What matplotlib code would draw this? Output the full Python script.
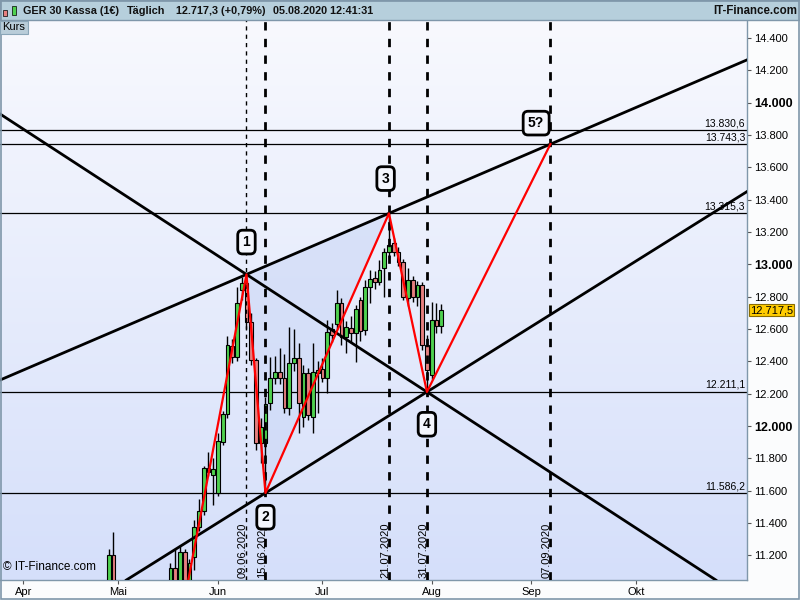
import numpy as np
import matplotlib.pyplot as plt
from matplotlib.patches import Rectangle, Polygon
from matplotlib.colors import LinearSegmentedColormap
from matplotlib.ticker import FixedLocator, FuncFormatter
import matplotlib.transforms as mtransforms

plt.rcParams['font.family'] = ['Liberation Sans', 'DejaVu Sans']

# ==========================================================
# Daten (Tageskerzen GER 30)
# ==========================================================
feiertage = ['2020-04-10', '2020-04-13']

datum = ['2020-04-29', '2020-04-30',
         '2020-05-18', '2020-05-19', '2020-05-20', '2020-05-21', '2020-05-22',
         '2020-05-25', '2020-05-26', '2020-05-27', '2020-05-28', '2020-05-29',
         '2020-06-01', '2020-06-02', '2020-06-03', '2020-06-04', '2020-06-05',
         '2020-06-08', '2020-06-09', '2020-06-10', '2020-06-11', '2020-06-12',
         '2020-06-15', '2020-06-16', '2020-06-17', '2020-06-18', '2020-06-19',
         '2020-06-22', '2020-06-23', '2020-06-24', '2020-06-25', '2020-06-26',
         '2020-06-29', '2020-06-30', '2020-07-01', '2020-07-02', '2020-07-03',
         '2020-07-06', '2020-07-07', '2020-07-08', '2020-07-09', '2020-07-10',
         '2020-07-13', '2020-07-14', '2020-07-15', '2020-07-16', '2020-07-17',
         '2020-07-20', '2020-07-21', '2020-07-22', '2020-07-23', '2020-07-24',
         '2020-07-27', '2020-07-28', '2020-07-29', '2020-07-30', '2020-07-31',
         '2020-08-03', '2020-08-04', '2020-08-05']

eroeffnung = [10900, 11202,
              10950, 11122, 11030, 11221, 11030,
              11188, 11374, 11473, 11740, 11695,
              11588, 11903, 12074, 12495, 12428,
              12841, 12886, 12645, 12408, 11893,
              11893, 12140, 12295, 12336, 12295,
              12110, 12388, 12419, 12057, 12326,
              12054, 12330, 12351, 12295, 12600,
              12631, 12759, 12548, 12604, 12573,
              12779, 12594, 12858, 12913, 12892,
              12975, 13078, 13130, 13076, 13016,
              12790, 12903, 12796, 12872, 12500,
              12315, 12655, 12618]

hoch = [11240, 11345,
        11153, 11241, 11262, 11240, 11180,
        11419, 11547, 11753, 11839, 11800,
        11957, 12090, 12557, 12540, 12861,
        12920, 12937, 12700, 12420, 12050,
        12180, 12429, 12433, 12480, 12443,
        12614, 12600, 12515, 12380, 12360,
        12511, 12400, 12420, 12655, 12640,
        12841, 12790, 12650, 12680, 12750,
        12800, 12903, 12965, 12960, 13027,
        13100, 13315, 13160, 13110, 13030,
        12975, 12930, 12900, 12890, 12560,
        12769, 12759, 12754]

tief = [10850, 10800,
        10900, 11000, 11000, 11030, 10990,
        11110, 11350, 11450, 11690, 11511,
        11567, 11880, 12050, 12388, 12400,
        12780, 12600, 12380, 11850, 11771,
        11586, 12100, 12260, 12260, 12080,
        12068, 12340, 11955, 11996, 12037,
        11955, 12080, 12270, 12202, 12520,
        12600, 12501, 12450, 12520, 12398,
        12527, 12560, 12761, 12850, 12870,
        12800, 13040, 13050, 12990, 12780,
        12740, 12770, 12740, 12470, 12211,
        12290, 12573, 12573]

schluss = [11202, 10860,
           11122, 11030, 11221, 11050, 11155,
           11374, 11473, 11740, 11715, 11732,
           11905, 12074, 12503, 12428, 12759,
           12886, 12645, 12408, 11893, 11996,
           12136, 12295, 12336, 12295, 12110,
           12388, 12419, 12144, 12326, 12068,
           12336, 12346, 12295, 12583, 12560,
           12759, 12548, 12610, 12573, 12722,
           12589, 12858, 12907, 12892, 12965,
           13078, 13119, 13076, 13016, 12800,
           12903, 12800, 12872, 12500, 12346,
           12655, 12618, 12717.5]

# Elliott-Welle (Start, 1, 2, 3, 4, 5?)
wellen_datum = ['2020-05-14', '2020-06-09', '2020-06-15',
                '2020-07-21', '2020-07-31', '2020-09-07']
wellen_wert = [10160, 12937.7, 11586.2, 13315.3, 12211.1, 13743.3]
wellen_name = ['', '1', '2', '3', '4', '5?']

# horizontale Linien
niveaus = [13830.6, 13743.3, 13315.3, 12211.1, 11586.2]
niveau_text = ['13.830,6', '13.743,3', '13.315,3', '12.211,1', '11.586,2']

# senkrechte Linien
vlinien = ['2020-06-09', '2020-06-15', '2020-07-21', '2020-07-31', '2020-09-07']
vlinien_text = ['09.06.2020', '15.06.2020', '21.07.2020', '31.07.2020', '07.09.2020']

monate = ['Apr', 'Mai', 'Jun', 'Jul', 'Aug', 'Sep', 'Okt']
monat_start = ['2020-04-01', '2020-05-01', '2020-06-01', '2020-07-01',
               '2020-08-03', '2020-09-01', '2020-10-01']

kurs_aktuell = 12717.5


def tag(d):
    return np.busday_count('2020-04-01', d, holidays=feiertage)


x = tag(datum)
o = np.array(eroeffnung, dtype=float)
h = np.array(hoch, dtype=float)
l = np.array(tief, dtype=float)
c = np.array(schluss, dtype=float)
wx = tag(wellen_datum)
wy = np.array(wellen_wert)

# ==========================================================
# Figur
# ==========================================================
fig = plt.figure(figsize=(8, 6), dpi=100)
fig.patch.set_facecolor('#fbfcfd')

ax = fig.add_axes([0, 20 / 600, 747 / 800, 560 / 600])
xmin, xmax = -4.9, 152.4
ymin, ymax = 11048, 14511
ax.set_xlim(xmin, xmax)
ax.set_ylim(ymin, ymax)

cmap = LinearSegmentedColormap.from_list('bg', ['#f8f9fe', '#d5dffa'])
ax.imshow(np.linspace(0, 1, 256).reshape(-1, 1), cmap=cmap, aspect='auto',
          extent=[xmin, xmax, ymin, ymax], origin='upper', zorder=0)

# Dreieck 1-2-3
ax.add_patch(Polygon([[wx[1], wy[1]], [wx[2], wy[2]], [wx[3], wy[3]]],
                     closed=True, facecolor='#c9d6f6', alpha=0.55,
                     edgecolor='none', zorder=1))

# horizontale Linien
for wert, txt in zip(niveaus, niveau_text):
    ax.axhline(wert, color='black', lw=0.9, zorder=2)
    ax.text(xmax - 0.4, wert + 12, txt, ha='right', va='bottom',
            fontsize=7.5, zorder=8)

# Kerzen
farben = np.where(c >= o, '#4fd14f', '#e67f7f')
ax.vlines(x, l, h, color='black', lw=1, zorder=3)
ax.bar(x, np.abs(c - o), bottom=np.minimum(o, c), width=0.78,
       color=farben, edgecolor='black', linewidth=0.8, zorder=3.5)

# senkrechte Linien
for i, (d, txt) in enumerate(zip(vlinien, vlinien_text)):
    xv = tag(d)
    if i == 0:
        ax.axvline(xv, color='black', lw=1, ls=(0, (3, 3)), zorder=4)
    else:
        ax.axvline(xv, color='black', lw=2, ls=(0, (3, 3)), zorder=4)
    ax.text(xv - 0.75, ymin + 12, txt, rotation=90, ha='center',
            va='bottom', fontsize=8, zorder=8)

# Trendlinien
for a, b in [(1, 3), (2, 4), (1, 4)]:
    ax.axline((wx[a], wy[a]), (wx[b], wy[b]), color='black', lw=2, zorder=5)

# Wellen
ax.plot(wx, wy, color='red', lw=1.6, zorder=6)

versatz = [0, 200, -150, 215, -200, 130]
xversatz = [0, 0, 0, -0.7, 0, -3]
for i in range(1, len(wellen_name)):
    ax.text(wx[i] + xversatz[i], wy[i] + versatz[i], wellen_name[i],
            ha='center', va='center', fontsize=10, fontweight='bold', zorder=9,
            bbox=dict(boxstyle='round,pad=0.35,rounding_size=0.35',
                      fc='#f4f6fd', ec='black', lw=2))

ax.text(0.004, 0.012, '© IT-Finance.com', transform=ax.transAxes,
        fontsize=8.5, ha='left', va='bottom', zorder=9)

# ==========================================================
# Achsen
# ==========================================================
for s in ['top', 'left']:
    ax.spines[s].set_visible(False)
for s in ['right', 'bottom']:
    ax.spines[s].set_color('#7f97aa')
    ax.spines[s].set_linewidth(1)

yticks = np.arange(11200, 14401, 200)
ax.yaxis.tick_right()
ax.yaxis.set_major_locator(FixedLocator(yticks))
ax.yaxis.set_major_formatter(FuncFormatter(
    lambda v, p: f'{int(v):,}'.replace(',', '.')))
ax.tick_params(axis='y', direction='out', length=3, width=0.8,
               color='#555555', labelsize=8, pad=2)
for lab, v in zip(ax.get_yticklabels(), yticks):
    if v % 1000 == 0:
        lab.set_fontweight('bold')
        lab.set_fontsize(9)

ax.xaxis.set_major_locator(FixedLocator(tag(monat_start)))
ax.set_xticklabels(monate)
ax.tick_params(axis='x', direction='out', length=3, width=0.8,
               color='#555555', labelsize=8, pad=2)

trans = mtransforms.blended_transform_factory(ax.transAxes, ax.transData)
ax.text(1.004, kurs_aktuell, '12.717,5', transform=trans, fontsize=8,
        ha='left', va='center', zorder=10, clip_on=False,
        bbox=dict(boxstyle='square,pad=0.12', fc='#ffcc00', ec='#8a6d00', lw=0.8))

# ==========================================================
# Kopfzeile
# ==========================================================
fig.patches.append(Rectangle((0, 580 / 600), 1, 20 / 600, transform=fig.transFigure,
                             facecolor='#b6cfdc', edgecolor='#7f97aa', lw=1,
                             zorder=0))
fig.patches.append(Rectangle((3 / 800, 1 - 16 / 600), 4 / 800, 6 / 600,
                             transform=fig.transFigure, facecolor='#e67f7f',
                             edgecolor='black', lw=0.5))
fig.patches.append(Rectangle((12 / 800, 1 - 15 / 600), 4 / 800, 9 / 600,
                             transform=fig.transFigure, facecolor='#4fd14f',
                             edgecolor='black', lw=0.5))
kopf = ['GER 30 Kassa (1€)', 'Täglich', '12.717,3 (+0,79%)', '05.08.2020 12:41:31']
kopf_x = [23, 127, 176, 273]
for t, xp in zip(kopf, kopf_x):
    fig.text(xp / 800, 1 - 11 / 600, t, fontsize=7.8, fontweight='bold',
             ha='left', va='center', color='#111111')
fig.text(797 / 800, 1 - 11 / 600, 'IT-Finance.com', fontsize=8.3,
         fontweight='bold', ha='right', va='center', color='#111111')

fig.patches.append(Rectangle((0, 1 - 34 / 600), 28 / 800, 13 / 600,
                             transform=fig.transFigure, facecolor='#b9cdd9',
                             edgecolor='#8aa6b8', lw=0.8, zorder=5))
fig.text(2 / 800, 1 - 27.5 / 600, 'Kurs', fontsize=8, ha='left', va='center',
         zorder=6)

fig.patches.append(Rectangle((0.0007, 0.001), 0.9985, 0.9975, transform=fig.transFigure,
                             facecolor='none', edgecolor='#7f97aa', lw=1.2))

fig.savefig('out.png', dpi=100, facecolor=fig.get_facecolor())
